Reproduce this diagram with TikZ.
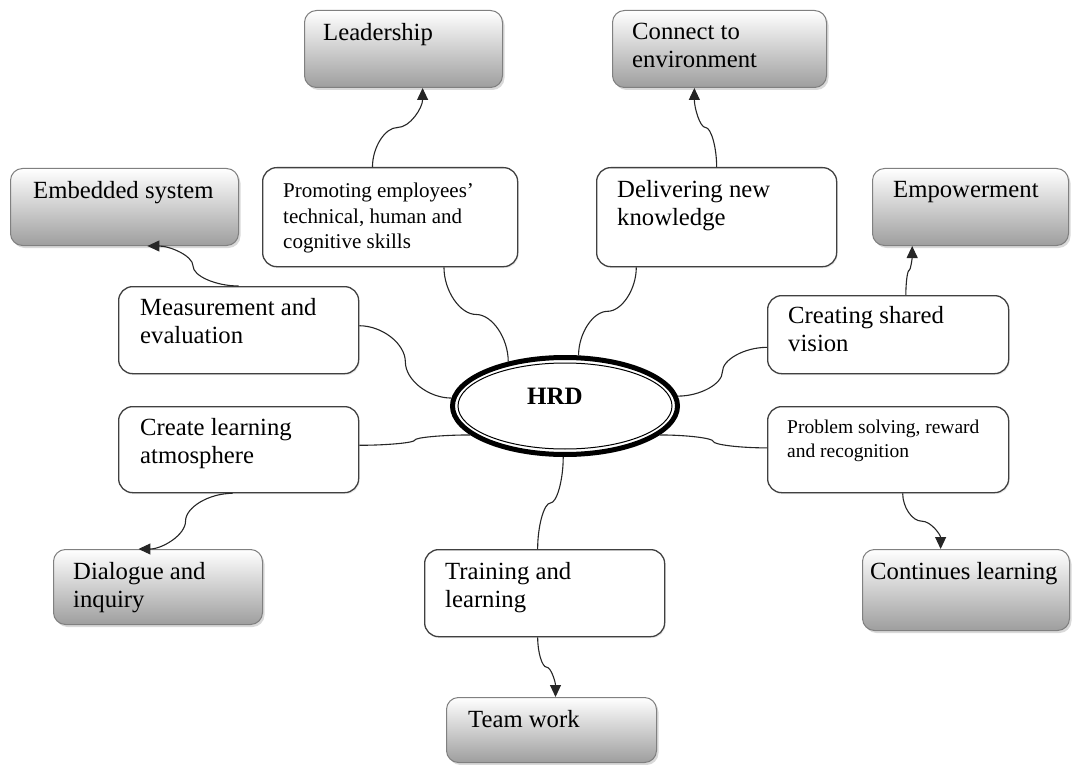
\documentclass[tikz,border=0pt]{standalone}
\usepackage{fontspec}
\setmainfont{Liberation Serif}
\usetikzlibrary{calc,shapes.geometric,arrows.meta,shadows}

\begin{document}
\begin{tikzpicture}[x=1pt,y=-1pt,
  % grey shaded outcome boxes
  gbox/.style={rectangle, rounded corners=12pt, draw=black!50, line width=1pt,
    top color=white, bottom color=black!38, anchor=north west,
    drop shadow={shadow xshift=2pt, shadow yshift=-2.5pt, opacity=0.3}},
  % white factor boxes
  wbox/.style={rectangle, rounded corners=14pt, draw=black!75, line width=1.3pt,
    fill=white, anchor=north west,
    drop shadow={shadow xshift=1pt, shadow yshift=-1.5pt, opacity=0.15}},
  lbl/.style={inner sep=0pt, anchor=north west, align=left,
    font=\fontsize{24.7}{28}\selectfont},
  lblsmall/.style={lbl, font=\fontsize{21}{25.5}\selectfont},
  lbltiny/.style={lbl, font=\fontsize{19.5}{24}\selectfont},
  link/.style={line width=1.1pt, draw=black!85},
  arr/.style={link, -{Triangle[length=12pt,width=11pt]}},
  % curved connectors: two cubic halves meeting at the midpoint,
  % ends leaving vertically (vlink) or horizontally (hlink)
  vlink/.style={to path={let \p1=(\tikztostart), \p2=(\tikztotarget),
    \p3=($(\p1)!0.5!(\p2)$), \p4=($(\p1)!0.5!(\p3)$), \p5=($(\p3)!0.5!(\p2)$) in
    .. controls (\x1,\y4) and (\x4,\y3) .. (\p3)
    .. controls (\x5,\y3) and (\x2,\y5) .. (\p2)}},
  hlink/.style={to path={let \p1=(\tikztostart), \p2=(\tikztotarget),
    \p3=($(\p1)!0.5!(\p2)$), \p4=($(\p1)!0.5!(\p3)$), \p5=($(\p3)!0.5!(\p2)$) in
    .. controls (\x4,\y1) and (\x3,\y4) .. (\p3)
    .. controls (\x3,\y5) and (\x5,\y2) .. (\p2)}}
]
\useasboundingbox (0,0) rectangle (1072,765);

% outcome boxes
\node[gbox, minimum width=198pt, minimum height=77pt] (lead) at (304,10) {};
\node[gbox, minimum width=214pt, minimum height=77pt] (conn) at (612,10) {};
\node[gbox, minimum width=228pt, minimum height=77pt] (emb)  at (10,168) {};
\node[gbox, minimum width=196pt, minimum height=77pt] (empw) at (872,168) {};
\node[gbox, minimum width=209pt, minimum height=75pt] (dial) at (53,549) {};
\node[gbox, minimum width=207pt, minimum height=81pt] (cont) at (862,549) {};
\node[gbox, minimum width=210pt, minimum height=65pt] (team) at (446,697) {};

% factor boxes
\node[wbox, minimum width=255pt, minimum height=99pt] (prom)   at (262,167) {};
\node[wbox, minimum width=240pt, minimum height=99pt] (deliv)  at (596,167) {};
\node[wbox, minimum width=240pt, minimum height=87pt] (meas)   at (118,286) {};
\node[wbox, minimum width=241pt, minimum height=78pt] (vision) at (767,295) {};
\node[wbox, minimum width=240pt, minimum height=86pt] (atmos)  at (118,406) {};
\node[wbox, minimum width=241pt, minimum height=86pt] (prob)   at (767,406) {};
\node[wbox, minimum width=240pt, minimum height=87pt] (train)  at (424,549) {};

% central ellipse
\node[ellipse, draw, line width=5pt, fill=white, minimum width=225pt,
      minimum height=97pt] (hrd) at (565,406) {};
\draw[line width=1pt] (hrd.center) ellipse [x radius=107pt, y radius=43pt];
\node[inner sep=0pt, font=\fontsize{25}{30}\selectfont\bfseries] (hrdt) at (555,396) {HRD};

% labels
\node[lbl] (leadt) at (323,23) {Leadership};
\node[lbl] (connt) at (632,23) {Connect to\\environment};
\node[lbl] (embt)  at (33,181) {Embedded system};
\node[lbl] (empwt) at (893,181) {Empowerment};
\node[lblsmall] (promt) at (283,183) {Promoting employees’\\technical, human and\\cognitive skills};
\node[lbl] (delivt) at (617,180) {Delivering new\\knowledge};
\node[lbl] (meast) at (140,298) {Measurement and\\evaluation};
\node[lbl] (visiont) at (788,306) {Creating shared\\vision};
\node[lbl] (atmost) at (140,418) {Create learning\\atmosphere};
\node[lbltiny] (probt) at (787,420) {Problem solving, reward\\and recognition};
\node[lbl] (dialt) at (73,562) {Dialogue and\\inquiry};
\node[lbl] (traint) at (445,562) {Training and\\learning};
\node[lbl] (contt) at (870,562) {Continues learning};
\node[lbl] (teamt) at (468,710) {Team work};

% links between the factors and HRD
\draw[link] ($(prom.south west)!0.71!(prom.south east)$) to[vlink] (hrd.142);
\draw[link] ($(deliv.south west)!0.167!(deliv.south east)$) to[vlink] (hrd.75);
\draw[link] ($(meas.north east)!0.45!(meas.south east)$) to[hlink] (hrd.176);
\draw[link] ($(atmos.north east)!0.45!(atmos.south east)$) to[hlink] (hrd.197);
\draw[link] ($(vision.north west)!0.66!(vision.south west)$) to[hlink] (hrd.5);
\draw[link] ($(prob.north west)!0.48!(prob.south west)$) to[hlink] (hrd.343);
\draw[link] (hrd.268) to[vlink] ($(train.north west)!0.471!(train.north east)$);

% arrows from the factors to the outcomes
\draw[arr] ($(prom.north west)!0.431!(prom.north east)$) to[vlink] ($(lead.south west)!0.596!(lead.south east)$);
\draw[arr] ($(deliv.north west)!0.5!(deliv.north east)$) to[vlink] ($(conn.south west)!0.383!(conn.south east)$);
\draw[arr] ($(meas.north west)!0.5!(meas.north east)$) to[hlink] ($(emb.south west)!0.6!(emb.south east)$);
\draw[arr] ($(vision.north west)!0.573!(vision.north east)$) to[vlink] ($(empw.south west)!0.204!(empw.south east)$);
\draw[arr] ($(atmos.south west)!0.475!(atmos.south east)$) to[hlink] ($(dial.north west)!0.407!(dial.north east)$);
\draw[arr] ($(prob.south west)!0.56!(prob.south east)$) to[vlink] ($(cont.north west)!0.378!(cont.north east)$);
\draw[arr] ($(train.south west)!0.471!(train.south east)$) to[vlink] ($(team.north west)!0.519!(team.north east)$);
\end{tikzpicture}
\end{document}
